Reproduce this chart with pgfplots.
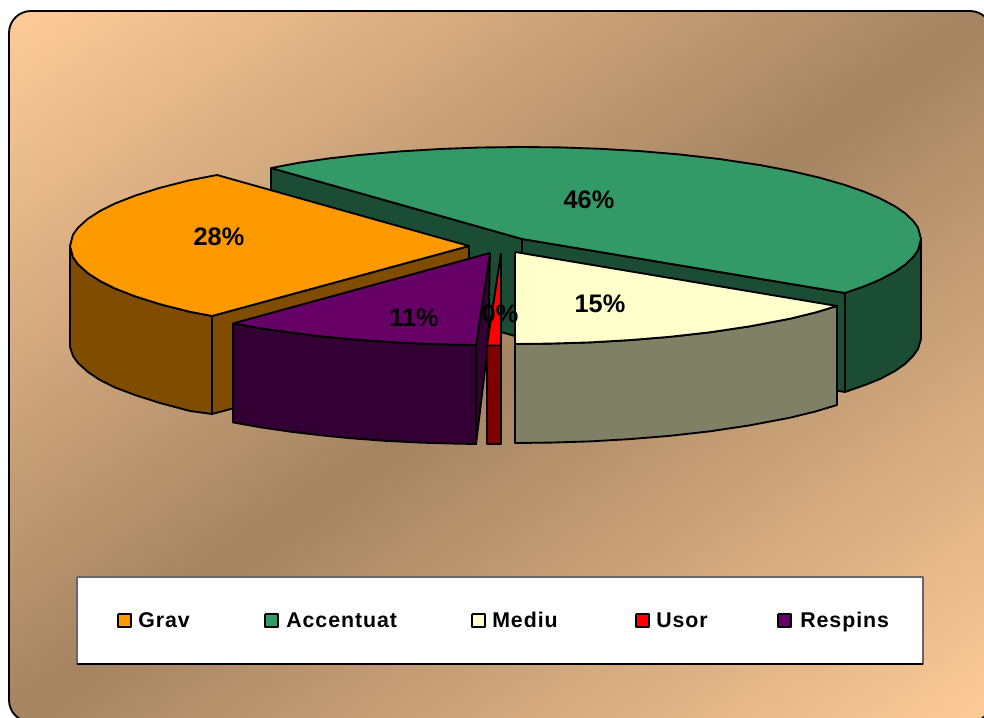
\documentclass[border=0pt]{standalone}
\usepackage{pgfplots}
\pgfplotsset{compat=1.18}
\usepackage{fontspec}
\setmainfont{Liberation Sans}
\newfontfamily\legfont[LetterSpace=4.5]{Liberation Sans}

\definecolor{bglight}{HTML}{FFCC99}
\definecolor{bgdark}{HTML}{A58462}
\definecolor{orangetop}{HTML}{FF9900}
\definecolor{orangeside}{HTML}{804D00}
\definecolor{greentop}{HTML}{339966}
\definecolor{greenside}{HTML}{1A4D33}
\definecolor{creamtop}{HTML}{FFFFCC}
\definecolor{creamside}{HTML}{808066}
\definecolor{redtop}{HTML}{FF0000}
\definecolor{redside}{HTML}{800000}
\definecolor{purpletop}{HTML}{660066}
\definecolor{purpleside}{HTML}{330033}

\tikzset{
  pct/.style={font=\fontsize{19pt}{20pt}\bfseries},
  leg/.style={font=\fontsize{16pt}{18pt}\legfont\bfseries,anchor=base west,inner sep=0pt},
}

\begin{document}
\begin{tikzpicture}
\clip (0,0) rectangle (738pt,537.75pt);
% background panel, runs off the right and bottom edge
\begin{scope}
\clip[rounded corners=16.5pt] (6.75pt,-3.75pt) rectangle (744pt,529.5pt);
\shade[top color=bglight,bottom color=bglight,middle color=bgdark,shading angle=35.9]
  (-56.6pt,-169.1pt) rectangle (807.4pt,694.9pt);
\end{scope}
\draw[black,line width=1.4pt,rounded corners=16.5pt] (6.75pt,-3.75pt) rectangle (744pt,529.5pt);

\begin{axis}[
  at={(0pt,0pt)},anchor=south west,
  scale only axis,width=738pt,height=537.75pt,
  xmin=0,xmax=984,ymin=0,ymax=717,y dir=reverse,
  hide axis,
  every axis plot/.append style={draw=black,line width=1.4pt,line join=round,mark=none},
]
% legend box
\addplot[fill=white,draw=black!60,line width=1pt] coordinates {(77,577) (923,577) (923,664) (77,664) (77,577)};
\addplot[draw=black,line width=1pt] coordinates {(77,664) (923,664)};

% green slice: inner faces, wall, top
\addplot[fill=greenside] coordinates {(271,168) (522,239) (522,338) (271,267) (271,168)};
\addplot[fill=greenside] coordinates {(522,239) (845,293) (845,392) (522,338) (522,239)};
\addplot[fill=greenside] coordinates {(845,293) (865,286) (880,279.6) (895,271.7) (905,264.8) (913,257.3) (918,250.3) (921,240)
  (921,339) (918,349) (913,356) (905,364) (895,371) (880,379) (865,385) (845,392) (845,293)};
\addplot[fill=greentop] coordinates {(522,239) (271,168) (300,162.6) (330,158.3) (360,154.9) (400,151.4) (440,149) (480,147.5) (522,147)
  (560,147.4) (600,148.8) (640,151.1) (680,154.5) (720,159.1) (760,165.1) (790,170.8) (820,177.8) (845,185) (865,192) (880,198.4)
  (895,206.3) (905,213.2) (913,220.7) (918,227.7) (921,239) (918,250.3) (913,257.3) (905,264.8) (895,271.7) (880,279.6) (865,286)
  (845,293) (522,239)};

% orange slice
\addplot[fill=orangeside] coordinates {(212,316) (469,246) (469,345) (212,414) (212,316)};
\addplot[fill=orangeside] coordinates {(70,246) (73,257.3) (78,264.3) (88,273.3) (100,281) (115,288.5) (135,296.3) (160,304.2) (190,311.8) (212,316)
  (212,414) (190,411) (160,403) (135,395) (115,387.5) (100,380) (88,372) (78,363) (73,356) (70,347) (70,246)};
\addplot[fill=orangetop] coordinates {(469,246) (217,175) (190,180.2) (160,187.8) (135,195.7) (115,203.5) (100,211) (88,218.7) (78,227.7) (73,234.7) (70,246)
  (73,257.3) (78,264.3) (88,273.3) (100,281) (115,288.5) (135,296.3) (160,304.2) (190,311.8) (212,316) (469,246)};

% purple slice
\addplot[fill=purpleside] coordinates {(490,253) (488,345) (476,444) (476,345) (490,253)};
\addplot[fill=purpleside] coordinates {(233,323.4) (260,328.2) (290,332.6) (320,336.2) (350,339.2) (385,341.8) (420,343.6) (450,344.5) (476,345)
  (476,444) (450,443.5) (420,442.6) (385,440.8) (350,438.2) (320,435.2) (290,431.6) (260,427.2) (233,422.4) (233,323.4)};
\addplot[fill=purpletop] coordinates {(490,253) (233,323.4) (260,328.2) (290,332.6) (320,336.2) (350,339.2) (385,341.8) (420,343.6) (450,344.5) (476,345) (490,253)};

% red slice
\addplot[fill=redside] coordinates {(487,345.5) (501,345.5) (501,444) (487,444) (487,345.5)};
\addplot[fill=redtop] coordinates {(501,253) (487,345.5) (501,345.5) (501,253)};

% cream slice
\addplot[fill=creamside] coordinates {(515,344) (550,343.6) (590,342.4) (630,340.1) (670,336.8) (710,332.3) (750,326.3) (790,318.7) (815,312.6) (837,306)
  (837,405) (815,411.6) (790,417.7) (750,425.3) (710,431.3) (670,435.8) (630,439.1) (590,441.4) (550,442.6) (515,443) (515,344)};
\addplot[fill=creamtop] coordinates {(515,252) (837,306) (815,312.6) (790,318.7) (750,326.3) (710,332.3) (670,336.8) (630,340.1) (590,342.4) (550,343.6) (515,344) (515,252)};

% legend swatches
\addplot[fill=orangetop,line width=0.9pt] coordinates {(118,614) (131,614) (131,627) (118,627) (118,614)};
\addplot[fill=greentop,line width=0.9pt] coordinates {(265,614) (278,614) (278,627) (265,627) (265,614)};
\addplot[fill=creamtop,line width=0.9pt] coordinates {(472,614) (485,614) (485,627) (472,627) (472,614)};
\addplot[fill=redtop,line width=0.9pt] coordinates {(636,614) (649,614) (649,627) (636,627) (636,614)};
\addplot[fill=purpletop,line width=0.9pt] coordinates {(778,614) (791,614) (791,627) (778,627) (778,614)};

% percentage labels
\node[pct] at (axis cs:589,200) {46\%};
\node[pct] at (axis cs:219,237) {28\%};
\node[pct] at (axis cs:414,318) {11\%};
\node[pct] at (axis cs:500,314) {0\%};
\node[pct] at (axis cs:600,304) {15\%};

% legend labels
\node[leg] at (axis cs:138,627) {Grav};
\node[leg] at (axis cs:286,627) {Accentuat};
\node[leg] at (axis cs:492,627) {Mediu};
\node[leg] at (axis cs:656,627) {Usor};
\node[leg] at (axis cs:800,627) {Respins};
\end{axis}
\end{tikzpicture}
\end{document}
